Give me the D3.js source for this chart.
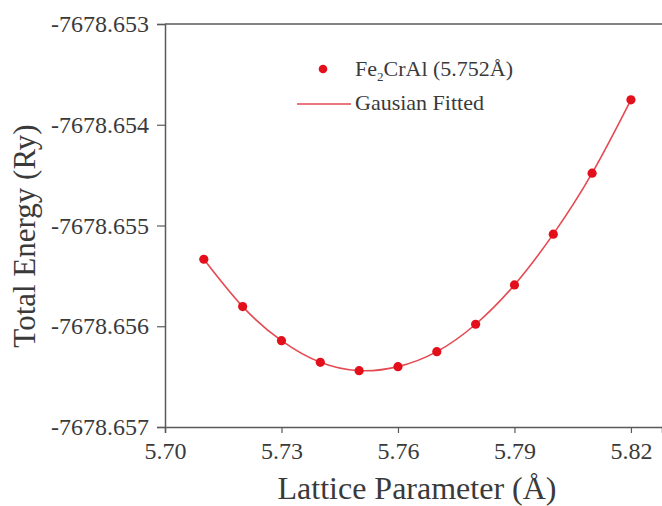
<!DOCTYPE html>
<html>
<head>
<meta charset="utf-8">
<script src="https://cdn.jsdelivr.net/npm/d3@7"></script>
<style>
  body { margin: 0; background: #fff; }
  svg { display: block; }
  text { font-family: "Liberation Serif", "Times New Roman", serif; fill: #3a3a3a; }
</style>
</head>
<body>
<svg id="chart" width="662" height="506"></svg>
<script>
// data
const lattice = [5.71, 5.72, 5.73, 5.74, 5.75, 5.76, 5.77, 5.78, 5.79, 5.80, 5.81, 5.82];
const energy = [-7678.655335, -7678.655805, -7678.656143, -7678.656358, -7678.656441, -7678.656401,
	-7678.656252, -7678.655980, -7678.655590, -7678.655086, -7678.654481, -7678.653753];
const xTicks = [5.70, 5.73, 5.76, 5.79, 5.82];
const yTicks = [-7678.657, -7678.656, -7678.655, -7678.654, -7678.653];
const legendLabels = ["Fe2CrAl (5.752Å)", "Gausian Fitted"];

const serif = "'Liberation Serif', 'Times New Roman', serif";
const svg = d3.select("#chart");
const axisColor = "#5a5a5a";
const red = "#e3101c";

// scales
const x = d3.scaleLinear().domain([5.70, 5.828]).range([165, 662]);
const y = d3.scaleLinear().domain([-7678.657, -7678.653]).range([427, 24]);

// frame top line
svg.append("line")
	.attr("x1", x(5.70)).attr("x2", 662)
	.attr("y1", y(-7678.653)).attr("y2", y(-7678.653))
	.attr("stroke", axisColor).attr("stroke-width", 1.5);

// axes
const xAxis = svg.append("g")
	.attr("transform", `translate(0,${y(-7678.657)})`)
	.call(d3.axisBottom(x).tickValues(xTicks).tickFormat(d3.format(".2f")).tickSizeOuter(0).tickSize(6).tickPadding(9));
const yAxis = svg.append("g")
	.attr("transform", `translate(${x(5.70)},0)`)
	.call(d3.axisLeft(y).tickValues(yTicks).tickFormat(d3.format(".3f")).tickSizeOuter(0).tickSize(8).tickPadding(8));

[xAxis, yAxis].forEach(g => {
	g.attr("font-family", serif);
	g.select(".domain").attr("stroke", axisColor).attr("stroke-width", 1.5);
	g.selectAll(".tick line").attr("stroke", axisColor).attr("stroke-width", 1.2);
	g.selectAll(".tick text")
		.style("font-family", serif)
		.style("font-size", "24px")
		.attr("fill", "#4a4a4a");
});
// "-" in the reference is a plain hyphen
yAxis.selectAll(".tick text").text(d => d3.format(".3f")(d).replace("−", "-"));

// axis titles
svg.append("text")
	.attr("x", 417).attr("y", 499)
	.attr("text-anchor", "middle")
	.style("font-size", "32px")
	.text("Lattice Parameter (Å)");
svg.append("text")
	.attr("transform", "translate(35,236) rotate(-90)")
	.attr("text-anchor", "middle")
	.style("font-size", "31px")
	.text("Total Energy (Ry)");

// fitted curve
const line = d3.line()
	.x((d, i) => x(lattice[i]))
	.y(d => y(d))
	.curve(d3.curveNatural);
svg.append("path")
	.datum(energy)
	.attr("fill", "none")
	.attr("stroke", "#e44a52")
	.attr("stroke-width", 1.6)
	.attr("d", line);

// points
svg.append("g").selectAll("circle").data(energy).enter()
	.append("circle")
	.attr("cx", (d, i) => x(lattice[i]))
	.attr("cy", d => y(d))
	.attr("r", 4.6)
	.attr("fill", red);

// legend
const lg = svg.append("g");
lg.append("circle").attr("cx", 323).attr("cy", 69).attr("r", 4.3).attr("fill", red);
const t1 = lg.append("text").attr("x", 355).attr("y", 76).style("font-size", "22px");
t1.append("tspan").text("Fe");
t1.append("tspan").attr("dy", 5).style("font-size", "13px").text("2");
t1.append("tspan").attr("dy", -5).text("CrAl (5.752Å)");
lg.append("line").attr("x1", 297).attr("x2", 351).attr("y1", 104).attr("y2", 104)
	.attr("stroke", "#e44a52").attr("stroke-width", 1.6);
lg.append("text").attr("x", 355).attr("y", 110).style("font-size", "22px").text(legendLabels[1]);
</script>
</body>
</html>
